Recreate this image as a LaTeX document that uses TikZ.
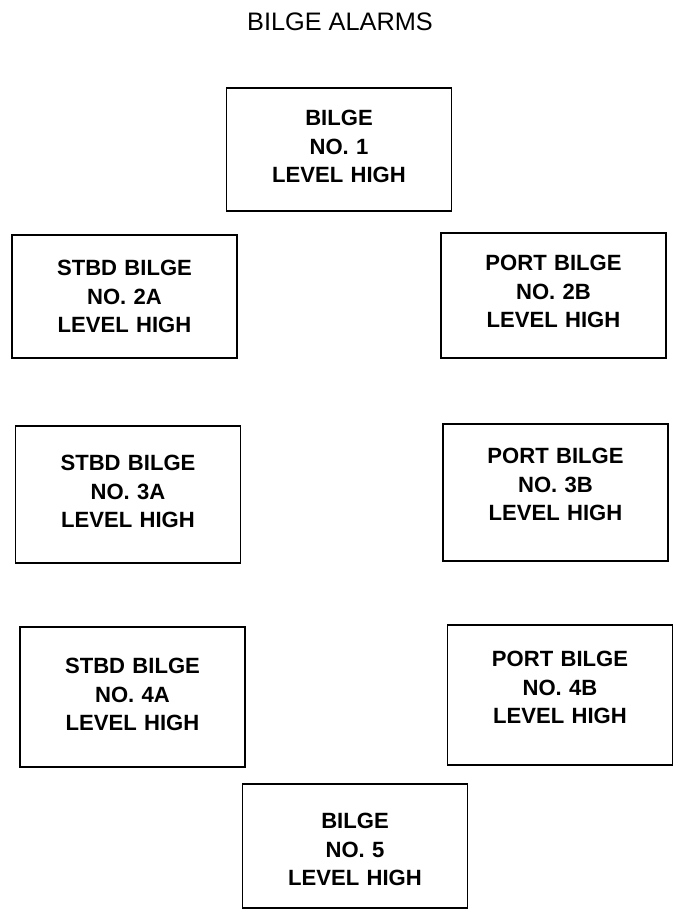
\documentclass[tikz,border=0pt]{standalone}
\usepackage{fontspec}
\setmainfont{Liberation Sans}
\usepackage{tikz}
\usetikzlibrary{positioning}

\begin{document}
\begin{tikzpicture}[
  alarm/.style 2 args={
    rectangle, draw=black, fill=white, anchor=north,
    inner sep=0pt, text width=5.625cm, align=center,
    text height=#1, text depth=#2,
    font=\fontsize{15.7}{20}\selectfont\bfseries, line width=1.4pt
  },
  ttl/.style={font=\fontsize{18}{22}\selectfont, anchor=base}
]
\useasboundingbox (0,0) rectangle (16.9,22.725);

% ── Título ────────────────────────────────────────────────────
\node[ttl] (title) at (8.5, 21.95) {BILGE ALARMS};

% ── Centro ────────────────────────────────────────────────────
\node[alarm={0.95cm}{2.125cm}] (B1) at (8.475, 20.55) {BILGE\\ NO. 1\\ LEVEL HIGH};

% ── Banda STBD (izquierda) ────────────────────────────────────
\node[alarm={1.025cm}{2.05cm}] (S2A) at (3.1125, 16.875) {STBD BILGE\\ NO. 2A\\ LEVEL HIGH};
\node[alarm={1.125cm}{2.3cm}]  (S3A) at (3.2, 12.1)      {STBD BILGE\\ NO. 3A\\ LEVEL HIGH};
\node[alarm={1.175cm}{2.325cm}] (S4A) at (3.3125, 7.075) {STBD BILGE\\ NO. 4A\\ LEVEL HIGH};

% ── Banda PORT (derecha) ──────────────────────────────────────
\node[alarm={0.95cm}{2.175cm}] (P2B) at (13.8375, 16.925) {PORT BILGE\\ NO. 2B\\ LEVEL HIGH};
\node[alarm={1.0cm}{2.425cm}]  (P3B) at (13.8875, 12.15)  {PORT BILGE\\ NO. 3B\\ LEVEL HIGH};
\node[alarm={1.05cm}{2.45cm}]  (P4B) at (14.0, 7.125)     {PORT BILGE\\ NO. 4B\\ LEVEL HIGH};

% ── Popa ──────────────────────────────────────────────────────
\node[alarm={1.125cm}{1.975cm}] (B5) at (8.875, 3.15) {BILGE\\ NO. 5\\ LEVEL HIGH};

\end{tikzpicture}
\end{document}
